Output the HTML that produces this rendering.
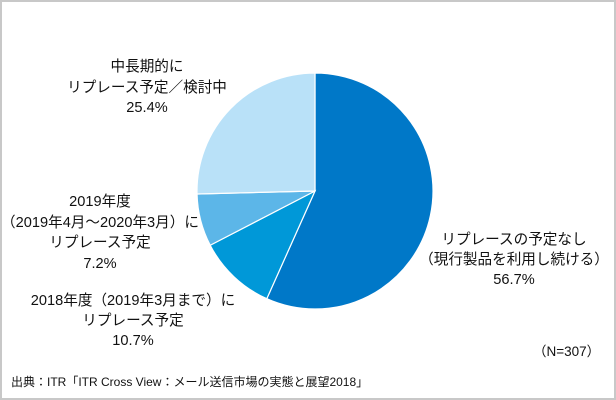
<!DOCTYPE html>
<html><head><meta charset="utf-8"><style>
body{margin:0;background:#fff}
#wrap{position:relative;width:612px;height:396px;border:2px solid #c8c8c8;overflow:hidden;font-family:"Liberation Sans","Noto Sans CJK JP",sans-serif;color:#111}
.lbl{position:absolute;text-align:center;font-size:14.6px;line-height:20.5px;white-space:nowrap;transform:translateX(-50%)}
</style></head><body>
<div id="wrap">
<svg id="pie" width="612" height="396" style="position:absolute;left:0;top:0"></svg>
<div class="lbl" style="left:145px;top:55px">中長期的に<br>リプレース予定／検討中<br>25.4%</div>
<div class="lbl" style="left:98px;top:190px">2019年度<br>（2019年4月～2020年3月）に<br>リプレース予定<br>7.2%</div>
<div class="lbl" style="left:131px;top:289px;line-height:20px">2018年度（2019年3月まで）に<br>リプレース予定<br>10.7%</div>
<div class="lbl" style="left:512px;top:228px;line-height:20px">リプレースの予定なし<br>（現行製品を利用し続ける）<br>56.7%</div>
<div style="position:absolute;left:531px;top:338px;font-size:13.5px">（N=307）</div>
<div style="position:absolute;left:9px;top:371px;font-size:12px">出典：ITR「ITR Cross View：メール送信市場の実態と展望2018」</div>
</div>
<script>
const categories=["リプレースの予定なし","2018年度にリプレース予定","2019年度にリプレース予定","中長期的にリプレース予定／検討中"];
const values=[56.7,10.7,7.2,25.4];
const colors=["#0078c8","#0098d8","#5cb6e8","#b9e1f8"];
const svg=document.getElementById('pie');
const cx=313,cy=189,r=118;
const total=values.reduce((a,b)=>a+b,0);
let a0=0;
values.forEach((v,i)=>{
  const a1=a0+v/total*2*Math.PI;
  const x0=cx+r*Math.sin(a0),y0=cy-r*Math.cos(a0),x1=cx+r*Math.sin(a1),y1=cy-r*Math.cos(a1);
  const p=document.createElementNS('http://www.w3.org/2000/svg','path');
  p.setAttribute('d',`M${cx},${cy}L${x0},${y0}A${r},${r} 0 ${a1-a0>Math.PI?1:0} 1 ${x1},${y1}Z`);
  p.setAttribute('fill',colors[i]);p.setAttribute('stroke','#fff');p.setAttribute('stroke-width','1.2');
  
  
  svg.appendChild(p);
  a0=a1;
});
</script>
</body></html>
